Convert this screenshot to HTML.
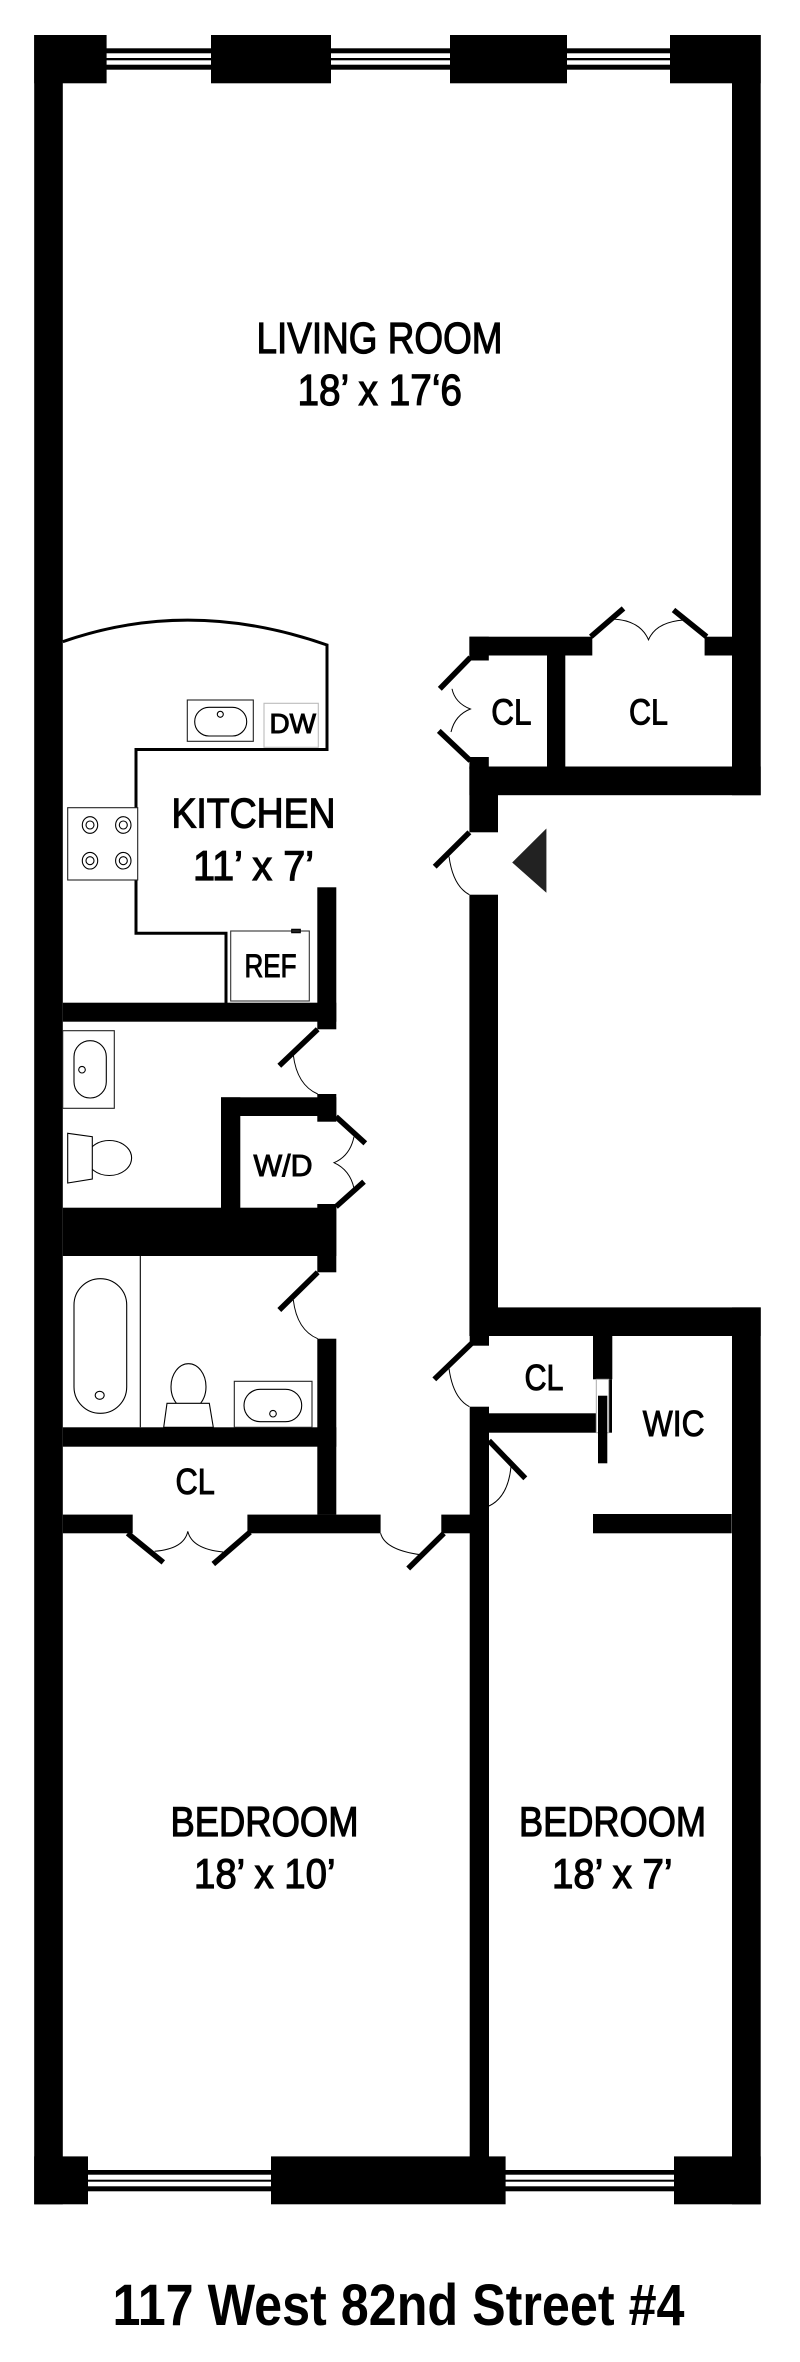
<!DOCTYPE html>
<html><head><meta charset="utf-8"><style>
html,body{margin:0;padding:0;background:#fff}
svg{display:block}
text{font-family:"Liberation Sans",sans-serif;fill:#000;stroke:#000;stroke-width:1.2}
text.s{stroke-width:1}
</style></head><body>
<svg width="800" height="2362" viewBox="0 0 800 2362" xmlns="http://www.w3.org/2000/svg">
<rect width="800" height="2362" fill="#fff"/>
<g fill="#000">
<!-- outer walls -->
<rect x="34.2" y="35" width="28.6" height="2169.3"/>
<rect x="732" y="35" width="28.7" height="760.2"/>
<rect x="732" y="1307.4" width="28.7" height="896.9"/>
<!-- top piers -->
<rect x="34.2" y="35" width="72.4" height="48.3"/>
<rect x="211" y="35" width="120" height="48.3"/>
<rect x="450" y="35" width="117" height="48.3"/>
<rect x="670" y="35" width="90.7" height="48.3"/>
<!-- top windows -->
<rect x="106" y="48.3" width="564" height="5"/>
<rect x="106" y="58" width="564" height="2.3"/>
<rect x="106" y="64.7" width="564" height="5"/>
<!-- bottom piers -->
<rect x="34.2" y="2156.4" width="53.8" height="47.9"/>
<rect x="271" y="2156.4" width="234.6" height="47.9"/>
<rect x="674" y="2156.4" width="86.7" height="47.9"/>
<rect x="88" y="2170" width="586" height="4.7"/>
<rect x="88" y="2179.7" width="586" height="2"/>
<rect x="88" y="2186.3" width="586" height="5"/>
<!-- upper closets -->
<rect x="469.4" y="636.7" width="122.9" height="18.8"/>
<rect x="704.6" y="636.7" width="27.4" height="18.8"/>
<rect x="469.4" y="636.7" width="19.4" height="23.8"/>
<rect x="469.4" y="757" width="19.4" height="12"/>
<rect x="547" y="655" width="18.3" height="112"/>
<rect x="469.4" y="766.5" width="291.3" height="28.7"/>
<rect x="469.4" y="766.5" width="28.6" height="65.8"/>
<!-- centre wall -->
<rect x="469.4" y="894.7" width="28.6" height="441.3"/>
<rect x="469.7" y="1307.4" width="291" height="28.6"/>
<rect x="469.7" y="1336" width="19.3" height="9.7"/>
<rect x="469.7" y="1406.7" width="19.3" height="763"/>
<rect x="489" y="1413.3" width="107.3" height="19.4"/>
<rect x="593" y="1336" width="19.3" height="43.3"/>
<rect x="608.7" y="1379.3" width="3.3" height="53.4"/>
<rect x="593" y="1514" width="138.7" height="19.3"/>
<!-- kitchen/bath block -->
<rect x="317.3" y="887.3" width="19" height="142"/>
<rect x="62.8" y="1002.7" width="273.5" height="19"/>
<rect x="317.3" y="1094" width="19" height="27.7"/>
<rect x="221" y="1097.3" width="115.3" height="18.7"/>
<rect x="221" y="1097.3" width="19.3" height="120"/>
<rect x="317.3" y="1204" width="19" height="68.3"/>
<rect x="62.8" y="1207.7" width="273.5" height="48.3"/>
<rect x="317.3" y="1338.7" width="19" height="176"/>
<rect x="62.8" y="1427.3" width="273.5" height="19.4"/>
<rect x="62.8" y="1514.6" width="69.9" height="18.7"/>
<rect x="247.4" y="1514.6" width="133.2" height="18.7"/>
<rect x="441.3" y="1514.6" width="47.5" height="18.7"/>
</g>
<!-- sliding door -->
<rect x="596.3" y="1379.3" width="12.4" height="53.4" fill="#fff" stroke="#aaa" stroke-width="1"/>
<rect x="598" y="1395.7" width="9.3" height="67.6" fill="#000"/>
<!-- counter -->
<path d="M62.8 641.7Q190 597 327 645V749.5H136V933.3H226V1003" fill="none" stroke="#000" stroke-width="3"/>
<!-- appliances -->
<g fill="#fff" stroke="#000" stroke-width="1.1">
<rect x="187.3" y="700" width="66" height="41.3" stroke="#222"/>
<rect x="194.7" y="707.3" width="52" height="28.7" rx="14.3"/>
<circle cx="220.3" cy="714.3" r="3"/>
<rect x="264" y="703.3" width="54.3" height="44" stroke="#bbb"/>
<rect x="67.7" y="807.7" width="70" height="72.3" stroke="#222"/>
<ellipse cx="90" cy="825" rx="7.7" ry="8.3"/><circle cx="90" cy="825" r="4"/>
<ellipse cx="123.3" cy="825" rx="7.7" ry="8.3"/><circle cx="123.3" cy="825" r="4"/>
<ellipse cx="90" cy="860.7" rx="7.7" ry="8.3"/><circle cx="90" cy="860.7" r="4"/>
<ellipse cx="123.3" cy="860.7" rx="7.7" ry="8.3"/><circle cx="123.3" cy="860.7" r="4"/>
<rect x="230.7" y="931" width="78.6" height="70" stroke="#333"/>
<rect x="291.7" y="929.3" width="8.6" height="3.4" fill="#222"/>
<rect x="62.7" y="1030.7" width="51.6" height="77.6" stroke="#222"/>
<rect x="74" y="1040.7" width="32.3" height="57.3" rx="16.1"/>
<circle cx="82" cy="1069.7" r="3.3"/>
<ellipse cx="109.3" cy="1158" rx="22.3" ry="17.5"/>
<path d="M67.7 1133.3L92.3 1136.7V1179L67.7 1183Z"/>
<path d="M140.3 1256V1427.3" fill="none"/>
<rect x="74" y="1278.7" width="52.7" height="134.6" rx="26.3"/>
<ellipse cx="99.7" cy="1395.3" rx="4.5" ry="4"/>
<ellipse cx="188.5" cy="1386.7" rx="17.5" ry="23"/>
<path d="M167 1403.3H209.3L213.3 1427.3H163.7Z"/>
<rect x="234.3" y="1381.3" width="77.7" height="46" stroke="#222"/>
<rect x="244" y="1389.3" width="57.7" height="32.4" rx="16.2"/>
<circle cx="273" cy="1413.7" r="3.3"/>
</g>
<!-- door leaves -->
<g stroke="#000" stroke-width="5.5" fill="none">
<path d="M470.4 657.4L439.8 688.8"/>
<path d="M470.4 760.7L438.8 730.9"/>
<path d="M590.8 636.7L623.5 608.4"/>
<path d="M706.6 636.7L673.5 610"/>
<path d="M469.4 832.3L434.7 866.7"/>
<path d="M317.7 1029.3L279.3 1065.7"/>
<path d="M336 1116.7L365.3 1143.3"/>
<path d="M336 1206.7L364 1181.7"/>
<path d="M317.7 1272.3L279.3 1310"/>
<path d="M471.7 1343.3L434.3 1379.3"/>
<path d="M489 1440.7L525.3 1478.3"/>
<path d="M127.6 1533.3L163.3 1562.4"/>
<path d="M250 1532.2L213.3 1564"/>
<path d="M443.9 1533.3L408.2 1568.5"/>
</g>
<!-- door arcs -->
<g stroke="#000" stroke-width="1" fill="none">
<path d="M452 688.8Q455 703 470.4 709Q455 715 451 732"/>
<path d="M612 619Q640 620 648.5 639.8Q656 622 683.7 620"/>
<path d="M449 856.4Q453 886 469.4 894.7"/>
<path d="M293.3 1055Q297 1085 317.7 1094"/>
<path d="M354 1136.7Q350 1156 334 1162.7Q350 1170 354 1188.3"/>
<path d="M293.3 1300Q297 1330 317.7 1338.7"/>
<path d="M449 1368.4Q453 1398 469.4 1406.7"/>
<path d="M511 1466.7Q508 1497 489 1506"/>
<path d="M154.6 1551.3Q184 1549 187.8 1531.4Q192 1549 223 1552"/>
<path d="M380.6 1533.3Q385 1550 421 1554.8"/>
</g>
<!-- entry triangle -->
<path d="M546.4 828.5L512.2 862.5L546.4 892.8Z" fill="#222"/>
<!-- labels -->
<g>
<text x="256.5" y="353" font-size="44" textLength="246" lengthAdjust="spacingAndGlyphs">LIVING ROOM</text>
<text x="297.5" y="405" font-size="44" textLength="164.5" lengthAdjust="spacingAndGlyphs">18’ x 17‘6</text>
<text x="171.5" y="827.7" font-size="42" textLength="164" lengthAdjust="spacingAndGlyphs">KITCHEN</text>
<text x="193" y="880" font-size="42" textLength="121" lengthAdjust="spacingAndGlyphs">11’ x 7’</text>
<text class="s" x="269.5" y="732.8" font-size="28" textLength="46.5" lengthAdjust="spacingAndGlyphs">DW</text>
<text class="s" x="244.5" y="976.8" font-size="32" textLength="52" lengthAdjust="spacingAndGlyphs">REF</text>
<text class="s" x="491.3" y="724.5" font-size="36" textLength="40.2" lengthAdjust="spacingAndGlyphs">CL</text>
<text class="s" x="629" y="724.5" font-size="36" textLength="39" lengthAdjust="spacingAndGlyphs">CL</text>
<text class="s" x="253.5" y="1176.2" font-size="31" textLength="59" lengthAdjust="spacingAndGlyphs">W/D</text>
<text class="s" x="175.5" y="1494.2" font-size="36" textLength="39.3" lengthAdjust="spacingAndGlyphs">CL</text>
<text class="s" x="524.5" y="1390.2" font-size="36" textLength="39" lengthAdjust="spacingAndGlyphs">CL</text>
<text class="s" x="642.8" y="1436.2" font-size="36" textLength="61.7" lengthAdjust="spacingAndGlyphs">WIC</text>
<text x="170.5" y="1836.2" font-size="42" textLength="188" lengthAdjust="spacingAndGlyphs">BEDROOM</text>
<text x="194" y="1888.2" font-size="42" textLength="141.5" lengthAdjust="spacingAndGlyphs">18’ x 10’</text>
<text x="519" y="1836.2" font-size="42" textLength="187" lengthAdjust="spacingAndGlyphs">BEDROOM</text>
<text x="552" y="1888.2" font-size="42" textLength="120.5" lengthAdjust="spacingAndGlyphs">18’ x 7’</text>
<text x="112.5" y="2325" font-size="58" font-weight="bold" style="stroke-width:0" textLength="572" lengthAdjust="spacingAndGlyphs">117 West 82nd Street #4</text>
</g>
</svg>
</body></html>
